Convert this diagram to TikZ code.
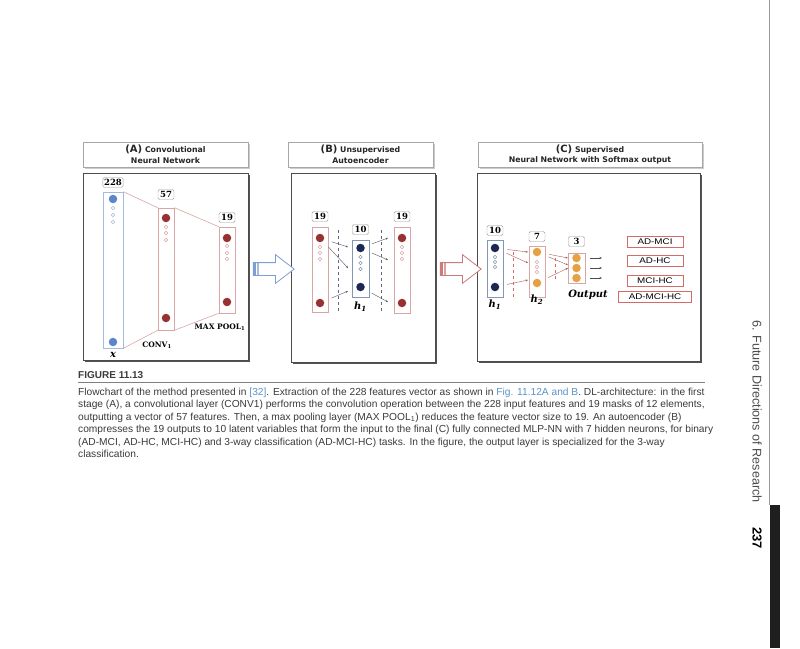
\documentclass[tikz,border=0pt]{standalone}
\usepackage{fontspec}
\setmainfont{Liberation Sans}
\newfontfamily\ttlfont{DejaVu Sans}
\newfontfamily\numfont{DejaVu Serif}
\newfontfamily\clsfont[FakeStretch=1.2]{Liberation Sans}
\usetikzlibrary{arrows.meta,positioning,shapes.arrows,shadows}
\definecolor{colblue}{HTML}{A3BBE2}
\definecolor{dotblue}{HTML}{5B86CC}
\definecolor{colred}{HTML}{D9A5A5}
\definecolor{dotred}{HTML}{983232}
\definecolor{navy}{HTML}{1D2753}
\definecolor{dotorange}{HTML}{E5A144}
\definecolor{clsred}{HTML}{D46A6A}
\definecolor{linkblue}{HTML}{5A93C8}
\definecolor{captext}{HTML}{3A3A3A}
\definecolor{arrblue}{HTML}{7F9FD2}
\definecolor{arrred}{HTML}{CC7A7A}
\tikzset{
  panel/.style={draw=black!70, fill=white, line width=0.7pt, inner sep=0pt,
    drop shadow={shadow xshift=2pt, shadow yshift=-2pt, fill=black!75, opacity=0.9}},
  ttl/.style={draw=black!35, fill=white, align=center, inner sep=0pt,
    font=\ttlfont\bfseries\fontsize{7.8}{10.5}\selectfont, text=black!85,
    drop shadow={shadow xshift=1.5pt, shadow yshift=-1.5pt, fill=black!25, opacity=0.8}},
  col/.style={draw, rectangle, fill=white, inner sep=0pt, line width=0.6pt},
  num/.style={draw=black!40, rounded corners=1.5pt, fill=white, inner sep=1.2pt,
    minimum width=16pt, minimum height=10pt, font=\numfont\bfseries\fontsize{8.5}{9}\selectfont},
  dot/.style={circle, inner sep=0pt, minimum size=8.5pt},
  lbl/.style={inner sep=0pt, font=\numfont\bfseries\fontsize{7.5}{8}\selectfont},
  hlbl/.style={inner sep=0pt, font=\numfont\bfseries\itshape\fontsize{10}{10}\selectfont},
  lnk/.style={-{Stealth[length=2.5pt,width=2pt]}, line width=0.4pt},
  cls/.style={draw=clsred, line width=0.6pt, fill=white, minimum height=11pt, inner sep=0pt,
    font=\clsfont\fontsize{8.2}{9}\selectfont},
  barrow/.style={single arrow, minimum height=41pt, inner xsep=0pt, inner ysep=6pt,
    single arrow head extend=8pt, single arrow tip angle=75, fill=white, line width=0.8pt},
  captxt/.style={anchor=base west, inner sep=0pt, font=\fontsize{10.2}{12}\selectfont, text=captext},
}

\begin{document}
\begin{tikzpicture}[x=1pt,y=-1pt]
\useasboundingbox (0,0) rectangle (800,648);

% Panel titles
\node[ttl, minimum width=165pt, minimum height=25pt] (ttlA) at (165.5,154.5)
  {{\fontsize{10}{10}\selectfont (A)} Convolutional\\Neural Network};
\node[ttl, minimum width=145pt, minimum height=25pt] (ttlB) at (360.5,154.5)
  {{\fontsize{10}{10}\selectfont (B)} Unsupervised\\Autoencoder};
\node[ttl, minimum width=224pt, minimum height=25pt] (ttlC) at (590,154.5)
  {{\fontsize{10}{10}\selectfont (C)} Supervised\\Neural Network with Softmax output};

% Panels
\node[panel, minimum width=165pt, minimum height=187pt] (pA) at (165.5,266.5) {};
\node[panel, minimum width=144pt, minimum height=189pt] (pB) at (363,267.5) {};
\node[panel, minimum width=223pt, minimum height=188pt] (pC) at (588.5,267) {};

% (A) convolution and pooling
\node[col, draw=colblue, minimum width=20pt, minimum height=156pt] (cA) at (113,270) {};
\node[col, draw=colred, minimum width=16pt, minimum height=122pt] (cB) at (166,269) {};
\node[col, draw=colred, minimum width=16pt, minimum height=86pt] (cC) at (227,270) {};
\node[num, minimum width=20pt, above=4pt of cA] (nA) {228};
\node[num, above=8pt of cB] (nB) {57};
\node[num, above=4pt of cC] (nC) {19};
\node[dot, fill=dotblue] (xA1) at (113,199) {};
\node[dot, fill=dotblue] (xA2) at (113,342) {};
\node[dot, fill=dotred] (xB1) at (166,218) {};
\node[dot, fill=dotred] (xB2) at (166,318) {};
\node[dot, fill=dotred] (xC1) at (227,238) {};
\node[dot, fill=dotred] (xC2) at (227,302) {};
\foreach \y in {208,215,222} \draw[colblue, line width=0.5pt] (113,\y) circle[radius=1.8];
\foreach \y in {227,233,240} \draw[colred, line width=0.5pt] (166,\y) circle[radius=1.8];
\foreach \y in {246,253,259} \draw[colred, line width=0.5pt] (227,\y) circle[radius=1.8];
\draw[colred, line width=0.6pt] (cA.north east) -- (cB.north west);
\draw[colred, line width=0.6pt] (cA.south east) -- (cB.south west);
\draw[colred, line width=0.6pt] (cB.north east) -- (cC.north west);
\draw[colred, line width=0.6pt] (cB.south east) -- (cC.south west);
\node[hlbl] (lx) at (113,355) {x};
\node[lbl] (lconv) at (157,345) {CONV\textsubscript{1}};
\node[lbl] (lpool) at (220,327) {MAX POOL\textsubscript{1}};

% Block arrows
\node[barrow, draw=arrblue, path picture={
  \fill[arrblue] (path picture bounding box.west) ++(0,-8pt) rectangle ++(2.5pt,16pt);
  \fill[arrblue!70] (path picture bounding box.west) ++(4pt,-8pt) rectangle ++(1.5pt,16pt);
  }] (arAB) at (269.5,269) {};
\node[barrow, draw=arrred, path picture={
  \fill[arrred] (path picture bounding box.west) ++(0,-8pt) rectangle ++(2.5pt,16pt);
  \fill[arrred!70] (path picture bounding box.west) ++(4pt,-8pt) rectangle ++(1.5pt,16pt);
  }] (arBC) at (456.5,269) {};

% (B) autoencoder
\node[col, draw=colred, minimum width=16pt, minimum height=85pt] (inB) at (320,269.5) {};
\node[col, draw=colblue!80!black, minimum width=17pt, minimum height=57pt] (hB) at (360.5,268.5) {};
\node[col, draw=colred, minimum width=16pt, minimum height=86pt] (outB) at (402,270) {};
\node[num, above=5pt of inB] (ninB) {19};
\node[num, above=5pt of hB] (nhB) {10};
\node[num, above=5pt of outB] (noutB) {19};
\node[dot, fill=dotred] (iB1) at (320,238) {};
\node[dot, fill=dotred] (iB2) at (320,303) {};
\node[dot, fill=navy] (hB1) at (360.5,248) {};
\node[dot, fill=navy] (hB2) at (360.5,287) {};
\node[dot, fill=dotred] (oB1) at (402,238) {};
\node[dot, fill=dotred] (oB2) at (402,303) {};
\foreach \y in {247,253,259} {
  \draw[colred, line width=0.5pt] (320,\y) circle[radius=1.8];
  \draw[colred, line width=0.5pt] (402,\y) circle[radius=1.8];
}
\foreach \y in {257,263,269} \draw[colblue!80!black, line width=0.5pt] (360.5,\y) circle[radius=1.8];
\draw[navy!70, dashed, line width=0.6pt] (338,230) -- (338,313);
\draw[navy!70, dashed, line width=0.6pt] (381,230) -- (381,313);
\coordinate (eB1) at (348,247);
\coordinate (eB2) at (348,268);
\coordinate (eB3) at (348,291);
\coordinate (eB4) at (388,238);
\coordinate (eB5) at (388,260);
\coordinate (eB6) at (388,302);
\draw[lnk, black!65, shorten <=8pt] (iB1) -- (eB1);
\draw[lnk, black!65, shorten <=8pt] (iB1) -- (eB2);
\draw[lnk, black!65, shorten <=8pt] (iB2) -- (eB3);
\draw[lnk, black!65, shorten <=8pt] (hB1) -- (eB4);
\draw[lnk, black!65, shorten <=8pt] (hB1) -- (eB5);
\draw[lnk, black!65, shorten <=8pt] (hB2) -- (eB6);
\node[hlbl] (lhB) at (360.5,307) {h\textsubscript{1}};

% (C) supervised network
\node[col, draw=colblue!80!black, minimum width=16pt, minimum height=57pt] (hC1) at (495,268.5) {};
\node[col, draw=colred, minimum width=16pt, minimum height=51pt] (hC2) at (537,271.5) {};
\node[col, draw=colred, minimum width=17pt, minimum height=30pt] (oC) at (576.5,268) {};
\node[num, above=4pt of hC1] (nhC1) {10};
\node[num, above=4pt of hC2] (nhC2) {7};
\node[num, above=6pt of oC] (noC) {3};
\node[dot, fill=navy] (aC1) at (495,248) {};
\node[dot, fill=navy] (aC2) at (495,287) {};
\node[dot, fill=dotorange] (bC1) at (537,252) {};
\node[dot, fill=dotorange] (bC2) at (537,283) {};
\node[dot, fill=dotorange] (oC1) at (576.5,258) {};
\node[dot, fill=dotorange] (oC2) at (576.5,268) {};
\node[dot, fill=dotorange] (oC3) at (576.5,278) {};
\foreach \y in {257,262,267} \draw[colblue!80!black, line width=0.5pt] (495,\y) circle[radius=1.8];
\foreach \y in {262,267,272} \draw[colred, line width=0.5pt] (537,\y) circle[radius=1.8];
\draw[clsred, dashed, line width=0.6pt] (513,252) -- (513,300);
\draw[clsred, dashed, line width=0.6pt] (555,258) -- (555,282);
\coordinate (eC1) at (528,252);
\coordinate (eC2) at (528,263);
\coordinate (eC3) at (528,280);
\coordinate (eC4) at (568,258);
\coordinate (eC5) at (568,265);
\coordinate (eC6) at (568,268);
\draw[lnk, dotred!80, shorten <=8pt] (aC1) -- (eC1);
\draw[lnk, dotred!80, shorten <=8pt] (aC1) -- (eC2);
\draw[lnk, dotred!80, shorten <=8pt] (aC2) -- (eC3);
\draw[lnk, dotred!80, shorten <=8pt] (bC1) -- (eC4);
\draw[lnk, dotred!80, shorten <=8pt] (bC1) -- (eC5);
\draw[lnk, dotred!80, shorten <=8pt] (bC2) -- (eC6);
\coordinate (tC1) at (602,258);
\coordinate (tC2) at (602,268);
\coordinate (tC3) at (602,278);
\draw[lnk, black!70, shorten <=9pt] (oC1) -- (tC1);
\draw[lnk, black!70, shorten <=9pt] (oC2) -- (tC2);
\draw[lnk, black!70, shorten <=9pt] (oC3) -- (tC3);
\node[hlbl] (lhC1) at (495,305) {h\textsubscript{1}};
\node[hlbl] (lhC2) at (537,300) {h\textsubscript{2}};
\node[hlbl] (lout) at (588,295) {Output};

% Classes
\node[cls, minimum width=56pt] (k1) at (655,242) {AD-MCI};
\node[cls, minimum width=56pt] (k2) at (655,261) {AD-HC};
\node[cls, minimum width=56pt] (k3) at (655,281) {MCI-HC};
\node[cls, minimum width=73pt] (k4) at (655,297) {AD-MCI-HC};

% Caption
\node[captxt, font=\bfseries\fontsize{10}{12}\selectfont] (fig) at (78,378.5) {FIGURE 11.13};
\draw[black!50, line width=1.1pt] (78,382.5) -- (705,382.5);
\node[captxt] (cap1) at (78,395) {Flowchart of the method presented in \textcolor{linkblue}{[32]}. Extraction of the 228 features vector as shown in \textcolor{linkblue}{Fig. 11.12A and B}. DL-architecture: in the first};
\node[captxt] (cap2) at (78,407.5) {stage (A), a convolutional layer (CONV1) performs the convolution operation between the 228 input features and 19 masks of 12 elements,};
\node[captxt] (cap3) at (78,420) {outputting a vector of 57 features. Then, a max pooling layer (MAX POOL\textsubscript{1}) reduces the feature vector size to 19. An autoencoder (B)};
\node[captxt] (cap4) at (78,432.5) {compresses the 19 outputs to 10 latent variables that form the input to the final (C) fully connected MLP-NN with 7 hidden neurons, for binary};
\node[captxt] (cap5) at (78,445) {(AD-MCI, AD-HC, MCI-HC) and 3-way classification (AD-MCI-HC) tasks. In the figure, the output layer is specialized for the 3-way};
\node[captxt] (cap6) at (78,457.5) {classification.};

% Running head
\draw[black!40, line width=1.5pt] (769.5,0) -- (769.5,505);
\fill[black!88] (770,505) rectangle (780,648);
\node[rotate=-90, anchor=west, inner sep=0pt, text=black!70, font=\fontsize{12.6}{13}\selectfont] (rh) at (757,320) {6. Future Directions of Research};
\node[rotate=-90, anchor=west, inner sep=0pt, font=\bfseries\fontsize{13}{13}\selectfont] (pg) at (757,527) {237};

\end{tikzpicture}
\end{document}
